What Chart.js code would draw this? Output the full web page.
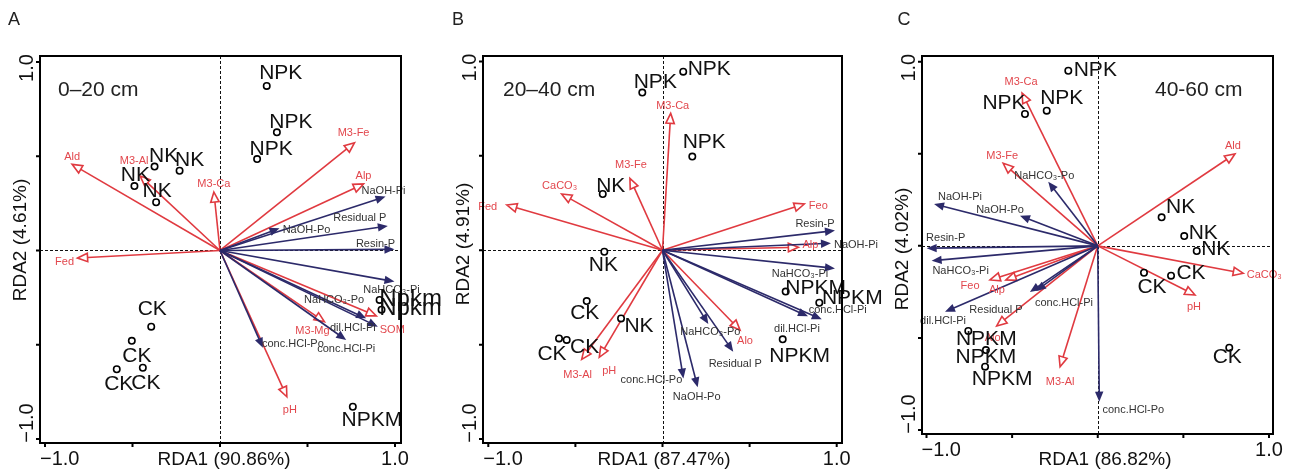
<!DOCTYPE html>
<html>
<head>
<meta charset="utf-8">
<script src="https://cdn.jsdelivr.net/npm/chart.js@4.4.0/dist/chart.umd.min.js"></script>
<style>
  html, body { margin: 0; padding: 0; background: #fff; }
  #wrap { position: relative; width: 1289px; height: 472px; overflow: hidden; }
  .panel { position: absolute; top: 0; height: 472px; }
</style>
</head>
<body>
<div id="wrap">
  <div class="panel" style="left:0;width:460px"><canvas id="chart-a"></canvas></div>
  <div class="panel" style="left:440px;width:450px"><canvas id="chart-b"></canvas></div>
  <div class="panel" style="left:880px;width:409px"><canvas id="chart-c"></canvas></div>
</div>
<script>
// ---- data ----
const axisTicks = [-1, -0.5, 0, 0.5, 1];
const panelLetters = ['A', 'B', 'C'];
const depthLabels = ['0–20 cm', '20–40 cm', '40-60 cm'];
const rda1Titles = ['RDA1 (90.86%)', 'RDA1 (87.47%)', 'RDA1 (86.82%)'];
const rda2Titles = ['RDA2 (4.61%)', 'RDA2 (4.91%)', 'RDA2 (4.02%)'];

// P fractions are drawn navy with filled heads, soil properties red with open heads
const pFractions = ['Resin-P', 'NaHCO₃-Pi', 'NaHCO₃-Po', 'NaOH-Pi', 'NaOH-Po',
  'dil.HCl-Pi', 'conc.HCl-Pi', 'conc.HCl-Po', 'Residual P'];

// Panel A (0–20 cm)
const varsA = ['Ald', 'M3-Al', 'M3-Ca', 'Fed', 'M3-Fe', 'Alp', 'NaOH-Pi', 'Residual P', 'NaOH-Po',
  'Resin-P', 'NaHCO₃-Pi', 'SOM', 'dil.HCl-Pi', 'NaHCO₃-Po', 'M3-Mg', 'conc.HCl-Pi', 'conc.HCl-Po', 'pH'];
const varXA = [-0.845, -0.456, -0.035, -0.814, 0.769, 0.82, 0.946, 0.959, 0.34,
  0.997, 0.997, 0.893, 0.902, 0.835, 0.597, 0.721, 0.245, 0.382];
const varYA = [0.457, 0.395, 0.31, -0.04, 0.572, 0.353, 0.286, 0.13, 0.118,
  0.006, -0.165, -0.347, -0.404, -0.36, -0.378, -0.475, -0.516, -0.776];
const samplesA = ['NPK', 'NPK', 'NPK', 'NK', 'NK', 'NK', 'NK', 'CK', 'CK', 'CK', 'CK', 'NPKM', 'Npkm', 'Npkm'];
const sampleXA = [0.267, 0.325, 0.212, -0.374, -0.231, -0.489, -0.365, -0.393, -0.504, -0.59, -0.441, 0.759, 0.912, 0.923];
const sampleYA = [0.873, 0.627, 0.485, 0.445, 0.423, 0.342, 0.256, -0.404, -0.479, -0.63, -0.622, -0.829, -0.262, -0.314];

// Panel B (20–40 cm)
const varsB = ['Fed', 'CaCO₃', 'M3-Fe', 'M3-Ca', 'Feo', 'Resin-P', 'NaOH-Pi', 'Alp', 'NaHCO₃-Pi',
  'conc.HCl-Pi', 'dil.HCl-Pi', 'Alo', 'NaHCO₃-Po', 'Residual P', 'conc.HCl-Po', 'NaOH-Po', 'M3-Al', 'pH'];
const varXB = [-0.894, -0.579, -0.187, 0.047, 0.814, 0.99, 0.967, 0.78, 0.99,
  0.914, 0.835, 0.445, 0.263, 0.406, 0.12, 0.202, -0.464, -0.363];
const varYB = [0.24, 0.298, 0.381, 0.725, 0.245, 0.104, 0.037, 0.016, -0.096,
  -0.366, -0.35, -0.423, -0.391, -0.537, -0.679, -0.726, -0.578, -0.567];
const samplesB = ['NPK', 'NPK', 'NPK', 'NK', 'NK', 'NK', 'CK', 'CK', 'CK', 'NPKM', 'NPKM', 'NPKM'];
const sampleXB = [-0.116, 0.119, 0.171, -0.343, -0.334, -0.238, -0.435, -0.594, -0.55, 0.707, 0.9, 0.69];
const sampleYB = [0.835, 0.946, 0.496, 0.298, -0.008, -0.361, -0.269, -0.467, -0.475, -0.219, -0.278, -0.472];

// Panel C (40-60 cm)
const varsC = ['M3-Ca', 'M3-Fe', 'NaHCO₃-Po', 'NaOH-Pi', 'NaOH-Po', 'Resin-P', 'NaHCO₃-Pi', 'Feo', 'Alp',
  'Residual P', 'conc.HCl-Pi', 'dil.HCl-Pi', 'Alo', 'M3-Al', 'conc.HCl-Po', 'Ald', 'CaCO₃', 'pH'];
const varXC = [-0.442, -0.552, -0.289, -0.956, -0.454, -0.999, -0.97, -0.629, -0.536,
  -0.396, -0.361, -0.892, -0.59, -0.22, 0.009, 0.801, 0.85, 0.568];
const varYC = [0.83, 0.448, 0.348, 0.227, 0.164, -0.013, -0.081, -0.185, -0.185,
  -0.251, -0.245, -0.358, -0.435, -0.656, -0.846, 0.499, -0.149, -0.267];
const samplesC = ['NPK', 'NPK', 'NPK', 'NK', 'NK', 'NK', 'CK', 'CK', 'CK', 'NPKM', 'NPKM', 'NPKM'];
const sampleXC = [-0.172, -0.425, -0.298, 0.373, 0.505, 0.578, 0.27, 0.428, 0.768, -0.756, -0.653, -0.658];
const sampleYC = [0.951, 0.716, 0.734, 0.155, 0.053, -0.028, -0.146, -0.162, -0.553, -0.462, -0.566, -0.656];

// ---- layout: label offsets in px from arrow tip / point ----
const varOffA = [[0,-7],[-6,-15],[0,-8],[-13,4],[-1,-10],[0,-8],[-2,-6],[-28,-8],[27,2],
  [-19,-5],[-3,8],[16,14],[-25,1],[-32,-18],[-12,9],[0,9],[30,-4],[3,13]];
const sampleOffA = [[14,-13],[14,-10],[14,-10],[9,-10],[10,-11],[1,-11],[1,-11],
  [1,-17],[5,15],[2,15],[3,15],[19,13],[31,-1,24],[29,-1,24]];
const varOffB = [[-19,2],[-2,-8],[1,-13],[2,-7],[14,2],[-20,-7],[25,2],[12,-2],[-35,6],
  [16,-9],[-11,13],[5,11],[2,8],[2,12],[-32,2],[-1,10],[-4,16],[10,14]];
const sampleOffB = [[13,-10],[26,-2],[12,-14],[8,-8],[-1,13],[18,8],[-2,12],[-7,16],[18,7],
  [30,-3],[33,-5],[17,17]];
const varOffC = [[-1,-11],[-1,-7],[-4,-6],[26,-7],[-20,-6],[19,-10],[29,10],[-20,6],[-9,10],
  [-34,18],[28,12],[-2,9],[-4,12],[0,15],[34,8],[-2,-8],[21,2],[-1,12]];
const sampleOffC = [[27,-1],[-21,-11],[15,-12],[19,-10],[19,-3],[19,-2],[8,14],[20,-2],[-2,10],
  [18,8],[0,7],[17,13]];

const RED = '#e03a40';
const RED_TEXT = '#e2474d';
const NAVY = '#2c2a6a';
const FONT = '"Liberation Sans", Arial, sans-serif';

const panels = [
  { id: 'chart-a', vars: varsA, vx: varXA, vy: varYA, off: varOffA,
    samples: samplesA, sx: sampleXA, sy: sampleYA, soff: sampleOffA,
    xr: [-1.0286, 1.0343], yr: [-1.0212, 1.0318], pad: { left: 40, right: 59, top: 56, bottom: 29 },
    letterX: 14, titleX: 224, depthX: 58 },
  { id: 'chart-b', vars: varsB, vx: varXB, vy: varYB, off: varOffB,
    samples: samplesB, sx: sampleXB, sy: sampleYB, soff: sampleOffB,
    xr: [-1.0304, 1.0304], yr: [-1.021, 1.029], pad: { left: 43, right: 48, top: 56, bottom: 29 },
    letterX: 18, titleX: 224, depthX: 63 },
  { id: 'chart-c', vars: varsC, vx: varXC, vy: varYC, off: varOffC,
    samples: samplesC, sx: sampleXC, sy: sampleYC, soff: sampleOffC,
    xr: [-1.0263, 1.0234], yr: [-1.0217, 1.031], pad: { left: 42, right: 16, top: 56, bottom: 38 },
    letterX: 24, titleX: 225, depthX: 275 }
];

function drawArrow(ctx, x0, y0, x1, y1, color, open) {
  const ang = Math.atan2(y1 - y0, x1 - x0);
  const len = 10, hw = 4.2;
  const bx = x1 - len * Math.cos(ang), by = y1 - len * Math.sin(ang);
  const px = -Math.sin(ang) * hw, py = Math.cos(ang) * hw;
  ctx.strokeStyle = color;
  ctx.fillStyle = color;
  ctx.lineWidth = 1.6;
  ctx.beginPath();
  ctx.moveTo(x0, y0);
  ctx.lineTo(open ? bx : bx + (x1 - bx) * 0.3, open ? by : by + (y1 - by) * 0.3);
  ctx.stroke();
  ctx.beginPath();
  ctx.moveTo(x1, y1);
  ctx.lineTo(bx + px, by + py);
  ctx.lineTo(bx - px, by - py);
  ctx.closePath();
  if (open) {
    ctx.fillStyle = '#fff';
    ctx.fill();
    ctx.stroke();
  } else {
    ctx.fill();
  }
}

function biplotPlugin(p, idx) {
  return {
    id: 'biplot' + idx,
    beforeDatasetsDraw(chart) {
      const { ctx, chartArea: a, scales: { x, y } } = chart;
      const x0 = x.getPixelForValue(0), y0 = y.getPixelForValue(0);
      ctx.save();
      ctx.strokeStyle = '#111';
      ctx.lineWidth = 1;
      ctx.setLineDash([3, 2]);
      ctx.beginPath();
      ctx.moveTo(Math.round(x0) + 0.5, a.top);
      ctx.lineTo(Math.round(x0) + 0.5, a.bottom);
      ctx.moveTo(a.left, Math.round(y0) + 0.5);
      ctx.lineTo(a.right, Math.round(y0) + 0.5);
      ctx.stroke();
      ctx.setLineDash([]);
      // red vectors first, P fractions on top
      [false, true].forEach(wantP => {
        p.vars.forEach((name, i) => {
          const isP = pFractions.includes(name);
          if (isP !== wantP) return;
          drawArrow(ctx, x0, y0, x.getPixelForValue(p.vx[i]), y.getPixelForValue(p.vy[i]),
            isP ? NAVY : RED, !isP);
        });
      });
      ctx.restore();
    },
    afterDatasetsDraw(chart) {
      const { ctx, chartArea: a, scales: { x, y } } = chart;
      ctx.save();
      ctx.textAlign = 'center';
      ctx.textBaseline = 'middle';

      // vector labels
      ctx.font = '11px ' + FONT;
      p.vars.forEach((name, i) => {
        const isP = pFractions.includes(name);
        ctx.fillStyle = isP ? '#333' : RED_TEXT;
        ctx.fillText(name, x.getPixelForValue(p.vx[i]) + p.off[i][0], y.getPixelForValue(p.vy[i]) + p.off[i][1]);
      });

      // sample labels
      ctx.fillStyle = '#111';
      p.samples.forEach((name, i) => {
        const o = p.soff[i];
        ctx.font = (o[2] || 21) + 'px ' + FONT;
        ctx.fillText(name, x.getPixelForValue(p.sx[i]) + o[0], y.getPixelForValue(p.sy[i]) + o[1]);
      });

      // frame
      ctx.strokeStyle = '#000';
      ctx.lineWidth = 2;
      ctx.strokeRect(a.left, a.top, a.right - a.left, a.bottom - a.top);

      // ticks
      ctx.beginPath();
      axisTicks.forEach(t => {
        const tx = x.getPixelForValue(t), ty = y.getPixelForValue(t);
        ctx.moveTo(tx, a.bottom); ctx.lineTo(tx, a.bottom + 4);
        ctx.moveTo(a.left - 4, ty); ctx.lineTo(a.left, ty);
      });
      ctx.stroke();

      // tick labels (only the ends are labelled)
      ctx.fillStyle = '#111';
      ctx.font = '20px ' + FONT;
      const ty = a.bottom + 16;
      ctx.textAlign = 'left';
      ctx.fillText('−1.0', x.getPixelForValue(-1) - 5, ty);
      ctx.textAlign = 'center';
      ctx.fillText('1.0', x.getPixelForValue(1), ty);
      [[1, '1.0', 6], [-1, '−1.0', -16]].forEach(([v, txt, dy]) => {
        ctx.save();
        ctx.translate(a.left - 13, y.getPixelForValue(v) + dy);
        ctx.rotate(-Math.PI / 2);
        ctx.fillText(txt, 0, 0);
        ctx.restore();
      });

      // axis titles
      ctx.font = '19px ' + FONT;
      ctx.fillText(rda1Titles[idx], p.titleX, 460);
      ctx.save();
      ctx.translate(a.left - 19, [240, 244, 249][idx]);
      ctx.rotate(-Math.PI / 2);
      ctx.fillText(rda2Titles[idx], 0, 0);
      ctx.restore();

      // depth label and panel letter
      ctx.textAlign = 'left';
      ctx.font = '21px ' + FONT;
      ctx.fillStyle = '#222';
      ctx.fillText(depthLabels[idx], p.depthX, 90);
      ctx.font = '18px ' + FONT;
      ctx.textAlign = 'center';
      ctx.fillText(panelLetters[idx], p.letterX, 20);
      ctx.restore();
    }
  };
}

panels.forEach((p, idx) => {
  new Chart(document.getElementById(p.id), {
    type: 'scatter',
    data: {
      datasets: [{
        data: p.sx.map((v, i) => ({ x: v, y: p.sy[i] })),
        pointRadius: 3.2,
        pointBorderWidth: 1.6,
        borderColor: '#000',
        backgroundColor: '#fff'
      }]
    },
    options: {
      responsive: true,
      maintainAspectRatio: false,
      animation: false,
      events: [],
      layout: { padding: p.pad },
      plugins: { legend: { display: false }, tooltip: { enabled: false } },
      scales: {
        x: { type: 'linear', min: p.xr[0], max: p.xr[1], display: false },
        y: { type: 'linear', min: p.yr[0], max: p.yr[1], display: false }
      }
    },
    plugins: [biplotPlugin(p, idx)]
  });
});
</script>
</body>
</html>
